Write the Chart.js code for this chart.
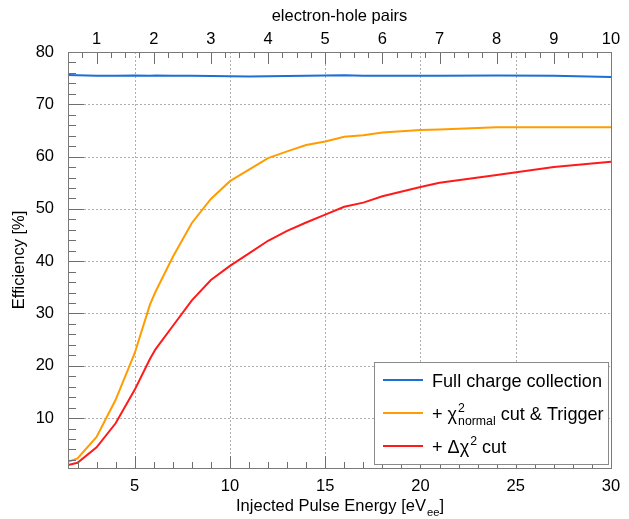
<!DOCTYPE html>
<html>
<head>
<meta charset="utf-8">
<title>Efficiency vs injected pulse energy</title>
<script src="https://cdn.jsdelivr.net/npm/chart.js@4/dist/chart.umd.min.js"></script>
<style>
  body { margin: 0; background: #fff; }
  #wrap { width: 629px; height: 519px; }
</style>
</head>
<body>
<div id="wrap"><canvas id="effChart" width="629" height="519"></canvas></div>
<script>
'use strict';

// values
let energy = [ 1.5, 2, 3, 4, 5, 5.8, 6.1, 7, 8, 9, 10, 11, 12, 13, 14, 15, 16, 17, 18, 20, 21, 24, 27, 30 ];
let fullCharge = [ 75.6, 75.55, 75.45, 75.45, 75.5, 75.45, 75.5, 75.45, 75.45, 75.4, 75.35, 75.3, 75.35, 75.4, 75.45, 75.5, 75.55, 75.45, 75.45, 75.45, 75.45, 75.5, 75.45, 75.2 ];
let chiNormal = [ 1.65, 2.3, 6.4, 13.5, 22.4, 31.7, 34.2, 40.8, 47.3, 51.9, 55.3, 57.5, 59.7, 61.0, 62.2, 62.9, 63.8, 64.1, 64.6, 65.1, 65.2, 65.6, 65.6, 65.6 ];
let deltaChi = [ 1.0, 1.45, 4.4, 9.0, 15.4, 21.3, 23.2, 27.6, 32.5, 36.4, 39.1, 41.5, 43.9, 45.8, 47.4, 48.9, 50.4, 51.2, 52.4, 54.2, 55.0, 56.5, 58.0, 59.0 ];

let seriesNames = [ 'Full charge collection', '+ χ2normal cut & Trigger', '+ Δχ2 cut' ];
let energyTicks = [ 5, 10, 15, 20, 25, 30 ];
let pairTicks = [ 1, 2, 3, 4, 5, 6, 7, 8, 9, 10 ];
let effTicks = [ 10, 20, 30, 40, 50, 60, 70, 80 ];

const FONT = '"Liberation Sans", Arial, sans-serif';
const colors = [ '#1c6ed8', '#ff9c00', '#ff1a1a' ];

// legend rows with super/subscripts
const legendRows = [
  [ { text: 'Full charge collection' } ],
  [ { text: '+ χ' }, { sup: '2', sub: 'normal' }, { text: ' cut & Trigger' } ],
  [ { text: '+ Δχ' }, { sup: '2' }, { text: ' cut' } ]
];

function points( ys ) {
  return energy.map( ( e, i ) => ( { x: e, y: ys[i] } ) );
}

function richWidth( ctx, parts, size ) {
  let w = 0;
  for ( const p of parts ) {
    if ( p.text !== undefined ) {
      ctx.font = size + 'px ' + FONT;
      w += ctx.measureText( p.text ).width;
    } else {
      ctx.font = ( size * 0.68 ) + 'px ' + FONT;
      w += Math.max( p.sup ? ctx.measureText( p.sup ).width : 0, p.sub ? ctx.measureText( p.sub ).width : 0 );
    }
  }
  return w;
}

function drawRich( ctx, parts, x, y, size ) {
  ctx.textAlign = 'left';
  ctx.textBaseline = 'alphabetic';
  for ( const p of parts ) {
    if ( p.text !== undefined ) {
      ctx.font = size + 'px ' + FONT;
      ctx.fillText( p.text, x, y );
      x += ctx.measureText( p.text ).width;
    } else {
      ctx.font = ( size * 0.68 ) + 'px ' + FONT;
      let w = 0;
      if ( p.sup ) {
        ctx.fillText( p.sup, x + 1, y - size * 0.42 );
        w = ctx.measureText( p.sup ).width + 1;
      }
      if ( p.sub ) {
        ctx.fillText( p.sub, x + 1, y + size * 0.3 );
        w = Math.max( w, ctx.measureText( p.sub ).width + 1 );
      }
      x += w;
    }
  }
}

function line( ctx, x1, y1, x2, y2 ) {
  ctx.beginPath();
  ctx.moveTo( x1, y1 );
  ctx.lineTo( x2, y2 );
  ctx.stroke();
}

const rootFrame = {
  id: 'rootFrame',
  beforeDatasetsDraw( chart ) {
    const { ctx, chartArea: a, scales } = chart;
    ctx.save();
    ctx.strokeStyle = '#b0b0b0';
    ctx.lineWidth = 1;
    ctx.setLineDash( [ 2, 2 ] );
    for ( const v of energyTicks ) {
      const x = Math.round( scales.x.getPixelForValue( v ) ) + 0.5;
      if ( x < a.right - 2 ) line( ctx, x, a.top, x, a.bottom );
    }
    for ( const v of effTicks ) {
      const y = Math.round( scales.y.getPixelForValue( v ) ) + 0.5;
      if ( y > a.top + 2 ) line( ctx, a.left, y, a.right, y );
    }
    ctx.restore();
  },
  afterDatasetsDraw( chart ) {
    const { ctx, chartArea: a, scales } = chart;
    ctx.save();
    ctx.lineWidth = 1;
    ctx.strokeStyle = '#6e6e6e';
    // bottom axis: minor every 1 eV, major at labels
    for ( let v = 2; v < 30; v++ ) {
      const x = Math.round( scales.x.getPixelForValue( v ) ) + 0.5;
      const len = energyTicks.includes( v ) ? 12 : 6;
      line( ctx, x, a.bottom, x, a.bottom - len );
    }
    // left axis: minor every 2 %
    for ( let v = 2; v < 80; v += 2 ) {
      const y = Math.round( scales.y.getPixelForValue( v ) ) + 0.5;
      const len = effTicks.includes( v ) ? 16 : 8;
      line( ctx, a.left, y, a.left + len, y );
    }
    // top axis: minor every quarter pair
    for ( let v = 0.75; v < 10; v += 0.25 ) {
      const x = Math.round( scales.x2.getPixelForValue( v ) ) + 0.5;
      const len = pairTicks.includes( v ) ? 12 : 6;
      line( ctx, x, a.top, x, a.top + len );
    }
    ctx.strokeStyle = '#7a7a7a';
    ctx.strokeRect( Math.round( a.left ) + 0.5, Math.round( a.top ) + 0.5, Math.round( a.right - a.left ), Math.round( a.bottom - a.top ) );
    ctx.restore();
  },
  afterDraw( chart ) {
    const { ctx, chartArea: a } = chart;
    ctx.save();
    // legend box
    const bx = 374, by = 362, bw = 234, bh = 102;
    ctx.fillStyle = '#ffffff';
    ctx.fillRect( bx, by, bw, bh );
    ctx.strokeStyle = '#8a8a8a';
    ctx.lineWidth = 1;
    ctx.strokeRect( bx + 0.5, by + 0.5, bw, bh );
    const rowY = [ 380, 413, 446 ];
    for ( let i = 0; i < legendRows.length; i++ ) {
      ctx.strokeStyle = colors[i];
      ctx.lineWidth = 2;
      line( ctx, 383, rowY[i], 423, rowY[i] );
      ctx.fillStyle = '#000';
      drawRich( ctx, legendRows[i], 432, rowY[i] + 7, 18.1 );
    }
    // bottom axis title with subscript
    const title = [ { text: 'Injected Pulse Energy [eV' }, { sub: 'ee' }, { text: ']' } ];
    const w = richWidth( ctx, title, 16.5 );
    ctx.fillStyle = '#000';
    drawRich( ctx, title, ( a.left + a.right ) / 2 - w / 2, 511, 16.5 );
    ctx.restore();
  }
};

const ctx = document.getElementById( 'effChart' ).getContext( '2d' );
const effChart = new Chart( ctx, {
  type: 'line',
  data: {
    datasets: [ fullCharge, chiNormal, deltaChi ].map( ( ys, i ) => ( {
      label: seriesNames[i],
      data: points( ys ),
      borderColor: colors[i],
      backgroundColor: colors[i],
      borderWidth: 2,
      pointRadius: 0,
      tension: 0,
      xAxisID: 'x',
      yAxisID: 'y'
    } ) )
  },
  options: {
    responsive: false,
    animation: false,
    events: [],
    layout: { padding: { top: 0, right: 18, bottom: 0, left: 0 } },
    plugins: { legend: { display: false }, tooltip: { enabled: false } },
    scales: {
      x: {
        type: 'linear',
        position: 'bottom',
        min: 1.5,
        max: 30,
        afterBuildTicks: scale => { scale.ticks = energyTicks.map( v => ( { value: v } ) ); },
        afterFit: scale => { scale.height = 51; },
        grid: { display: false },
        border: { display: false },
        ticks: { color: '#000', padding: 1, maxRotation: 0, font: { family: FONT, size: 16.5 } }
      },
      x2: {
        type: 'linear',
        position: 'top',
        min: 0.5,
        max: 10,
        afterBuildTicks: scale => { scale.ticks = pairTicks.map( v => ( { value: v } ) ); },
        afterFit: scale => { scale.height = 52; },
        grid: { display: false },
        border: { display: false },
        title: { display: true, text: 'electron-hole pairs', color: '#000', padding: { top: 7, bottom: 0 }, font: { family: FONT, size: 16.5 } },
        ticks: { color: '#000', padding: -5, maxRotation: 0, font: { family: FONT, size: 16.5 } }
      },
      y: {
        type: 'linear',
        position: 'left',
        min: 0.45,
        max: 80,
        afterBuildTicks: scale => { scale.ticks = effTicks.map( v => ( { value: v } ) ); },
        afterFit: scale => { scale.width = 68; },
        grid: { display: false },
        border: { display: false },
        title: { display: true, text: 'Efficiency [%]', color: '#000', padding: { top: 10, bottom: 0 }, font: { family: FONT, size: 16.5 } },
        ticks: { color: '#000', padding: 6, font: { family: FONT, size: 16.5 } }
      }
    }
  },
  plugins: [ rootFrame ]
} );
</script>
</body>
</html>
